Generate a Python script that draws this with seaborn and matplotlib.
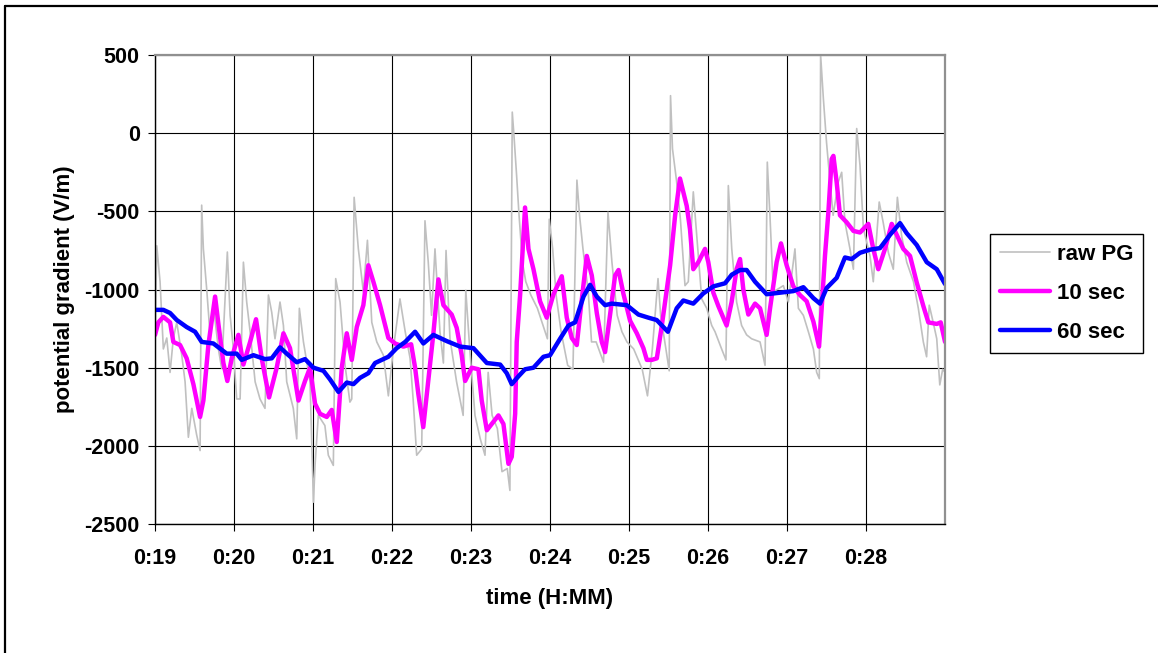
import pandas as pd
import matplotlib.pyplot as plt
import seaborn as sns
from matplotlib.lines import Line2D

# seconds after 0:19:00 and potential gradient (V/m)
raw_t = [0, 1.3, 3.8, 6.3, 8.9, 11.4, 13.9, 16.5, 20.3, 22.8, 25.3, 27.9, 31.6, 34.2,
         35.4, 36.7, 39.2, 41.8, 44.3, 48.1, 50.6, 54.9, 57, 59.5, 62, 64.6, 67.1,
         69.6, 72.2, 76, 79.7, 83.5, 86.1, 88.6, 91.1, 94.9, 97.5, 100, 105, 107.6,
         109.6, 112.7, 117.7, 120.3, 121.5, 124, 129, 131.6, 135.4, 137.2, 140.5,
         144.3, 148, 149.4, 151.2, 154.4, 158.2, 161.3, 164.6, 168.4, 173.4, 177.2,
         181, 186, 190, 193.7, 196, 198.7, 202.5, 205, 207.5, 210, 212.6, 216.4, 219,
         221, 224, 229, 234, 236, 239, 243, 247, 250.6, 253, 256, 260, 263.5, 267.5,
         269.5, 271.3, 272.6, 274.6, 276.3, 279, 281.6, 285.4, 290.4, 295.5, 298,
         299.4, 302, 304.6, 308.4, 313.4, 317.4, 320.4, 322.4, 325, 329, 331.5, 335,
         340.6, 344, 347, 351, 354.6, 358.4, 363.5, 370, 374, 377.7, 382, 384, 388,
         390.5, 391.5, 393, 396, 399, 402.5, 405, 408.8, 411.4, 415.2, 419, 422.8,
         425.3, 430.3, 433.6, 435.4, 438, 441.7, 445.5, 449.3, 453.1, 459.5, 463.3,
         465, 467, 469.6, 473.4, 477.2, 481, 486, 488.6, 492.4, 496.2, 500, 502.5,
         504.5, 505.5, 507.6, 510, 512.6, 515, 519, 521.5, 524, 527.8, 530.4, 532.9,
         535.4, 538, 543, 545.5, 550, 553, 557, 560.7, 563.8, 567, 570.9, 576, 579.7,
         583.5, 586, 588, 591, 593.7, 596, 598.2, 600]
raw_pg = [-1350, -720, -950, -1380, -1310, -1530, -1310, -1210, -1420, -1590, -1945,
          -1760, -1930, -2030, -460, -740, -995, -1290, -1100, -1380, -1505, -760,
          -1165, -1380, -1700, -1700, -825, -1080, -1270, -1590, -1700, -1760, -1035,
          -1145, -1315, -1080, -1230, -1590, -1760, -1955, -1120, -1335, -1590, -2360,
          -2125, -1805, -1870, -2060, -2125, -930, -1080, -1485, -1720, -1700, -410,
          -740, -1015, -685, -1210, -1335, -1420, -1680, -1380, -1060, -1270, -1440,
          -1700, -2060, -2020, -560, -825, -1165, -740, -1270, -1470, -750, -1315,
          -1590, -1805, -1005, -1380, -1805, -1955, -2060, -1530, -1805, -1890, -2165,
          -2145, -2285, 135, -15, -270, -505, -825, -950, -1035, -1120, -1250, -1315,
          -550, -740, -1035, -1270, -1485, -1510, -300, -525, -740, -1015, -1335,
          -1335, -1465, -505, -825, -1165, -1270, -1335, -1380, -1510, -1680, -1380,
          -930, -1165, -1380, -1520, 240, -100, -300, -550, -975, -950, -375, -655,
          -1060, -1120, -1230, -1270, -1380, -1450, -335, -740, -1080, -1230, -1290,
          -1315, -1335, -1485, -185, -525, -1015, -995, -975, -1080, -740, -1120,
          -1165, -1270, -1380, -1530, -1570, 500, 220, -60, -310, -525, -310, -250,
          -570, -740, -870, 30, -205, -610, -785, -950, -440, -570, -765, -870, -410,
          -655, -825, -950, -1120, -1335, -1430, -1100, -1210, -1315, -1610, -1510,
          -1530]

avg10_t = [0, 2.5, 6.3, 11.4, 13.9, 19, 24, 29.1, 34.2, 36.7, 40.5, 45.6, 48.1, 51.9,
           54.9, 58.2, 63.3, 67.1, 72.2, 76.7, 81, 86.6, 92.4, 97.5, 102.5, 108.9,
           113.9, 117.7, 121.5, 125.3, 130.4, 134.2, 138, 141.8, 145.6, 149.4, 153.2,
           158.2, 162, 165.8, 170.9, 177.2, 182.3, 188.6, 194.5, 197.5, 200, 203.7,
           207.5, 211.4, 215.2, 219, 225.3, 229.1, 232.9, 235.5, 240.5, 245.6, 248.1,
           252, 255.7, 260.8, 264.6, 268.4, 270.9, 273.5, 274.7, 277.3, 281, 283.6,
           287.4, 292.4, 297.5, 302.6, 308.9, 312.7, 316.5, 320.3, 322.8, 327.9, 331.7,
           335.5, 339.3, 341.8, 345.6, 349.4, 352, 355.8, 360.8, 365.9, 370.9, 373.5,
           377.3, 381.1, 384.9, 391.2, 395, 398.7, 403.8, 406.3, 408.8, 412.6, 417.7,
           420.2, 424, 427.8, 434.1, 437.9, 441.7, 444.3, 446.8, 450.6, 455.7, 459.5,
           464.5, 467.1, 472.1, 475.4, 479.7, 484.8, 489.8, 494.9, 500, 504.3, 506.3,
           508.8, 511.4, 513.9, 515.2, 517.7, 520.2, 525.3, 530.4, 535.4, 541.7, 545.5,
           549.3, 554.4, 559.5, 563.3, 568.3, 573.4, 578.5, 583.5, 587.3, 593.7, 596.7,
           600]
avg10_pg = [-1290, -1210, -1175, -1210, -1335, -1355, -1440, -1605, -1815, -1710,
            -1355, -1045, -1220, -1470, -1585, -1440, -1290, -1480, -1335, -1190, -1440,
            -1690, -1500, -1280, -1375, -1710, -1585, -1500, -1730, -1795, -1815, -1770,
            -1975, -1500, -1280, -1450, -1240, -1100, -845, -950, -1100, -1310, -1345,
            -1365, -1350, -1500, -1670, -1880, -1585, -1280, -935, -1100, -1160, -1245,
            -1420, -1585, -1500, -1510, -1710, -1900, -1860, -1805, -1860, -2115, -2070,
            -1795, -1335, -1030, -475, -740, -870, -1075, -1180, -1030, -915, -1180,
            -1310, -1355, -1160, -785, -910, -1150, -1335, -1400, -1160, -910, -875,
            -1030, -1200, -1280, -1375, -1450, -1450, -1440, -1230, -845, -525, -290,
            -465, -615, -870, -825, -740, -825, -1020, -1105, -1230, -1080, -870, -805,
            -1000, -1160, -1090, -1120, -1290, -1120, -825, -705, -845, -980, -1035,
            -1075, -1205, -1365, -1120, -785, -505, -165, -145, -315, -525, -570, -625,
            -635, -580, -740, -870, -740, -580, -650, -740, -785, -955, -1105, -1210,
            -1220, -1210, -1335]

avg60_t = [0, 6.3, 11.4, 16.5, 24, 30.4, 35.4, 44.3, 54.4, 62, 65.8, 74.7, 83.5, 88.6,
           94.9, 100, 107.6, 113.9, 120.3, 127.9, 132.9, 139.3, 145.6, 150.7, 155.7,
           162, 167.1, 177.2, 183.5, 190, 197.5, 203.8, 211.4, 221.6, 231.7, 241.8,
           252, 262.1, 267.1, 270.9, 276, 281, 287.4, 295, 300, 307.6, 314, 319, 325.4,
           330.4, 335.5, 341.8, 346.9, 358.3, 367.1, 374.7, 381, 389.5, 396.2, 401.2,
           408.8, 416.4, 424, 432.9, 438, 444.3, 449.3, 455.7, 464.5, 474.7, 484.8,
           492.4, 500, 505, 510.1, 517.7, 524, 529.1, 535.4, 543, 550.6, 558.2, 565.8,
           570.9, 578.5, 586.1, 593.7, 600]
avg60_pg = [-1130, -1130, -1150, -1195, -1240, -1270, -1335, -1345, -1410, -1410, -1450,
            -1420, -1445, -1440, -1370, -1410, -1465, -1445, -1500, -1520, -1575, -1655,
            -1595, -1605, -1565, -1535, -1470, -1430, -1375, -1335, -1270, -1345, -1290,
            -1330, -1365, -1375, -1470, -1480, -1535, -1605, -1555, -1510, -1500, -1430,
            -1420, -1315, -1230, -1210, -1045, -970, -1045, -1100, -1090, -1100, -1160,
            -1180, -1195, -1270, -1120, -1070, -1090, -1025, -980, -960, -905, -875,
            -875, -950, -1030, -1020, -1010, -985, -1055, -1090, -990, -925, -795, -805,
            -765, -745, -735, -650, -575, -640, -715, -825, -870, -965]

minute_ticks = [19, 20, 21, 22, 23, 24, 25, 26, 27, 28]
minute_labels = ['0:19', '0:20', '0:21', '0:22', '0:23', '0:24', '0:25', '0:26', '0:27', '0:28']
y_ticks = [-2500, -2000, -1500, -1000, -500, 0, 500]

sns.set_theme(style='white')
plt.rcParams['font.family'] = ['Liberation Sans', 'DejaVu Sans']
plt.rcParams['font.weight'] = 'bold'
plt.rcParams['axes.unicode_minus'] = False
plt.rcParams['text.color'] = 'black'
plt.rcParams['axes.labelcolor'] = 'black'
plt.rcParams['xtick.color'] = 'black'
plt.rcParams['ytick.color'] = 'black'

df_raw = pd.DataFrame({'minute': [19 + t / 60 for t in raw_t], 'pg': raw_pg})
df_10 = pd.DataFrame({'minute': [19 + t / 60 for t in avg10_t], 'pg': avg10_pg})
df_60 = pd.DataFrame({'minute': [19 + t / 60 for t in avg60_t], 'pg': avg60_pg})

fig = plt.figure(figsize=(11.58, 6.53), dpi=100)
ax = fig.add_axes([0.1339, 0.1975, 0.6822, 0.7182])

sns.lineplot(data=df_raw, x='minute', y='pg', ax=ax, color='#C0C0C0', linewidth=1.2,
             estimator=None, sort=False, label='raw PG')
sns.lineplot(data=df_10, x='minute', y='pg', ax=ax, color='#FF00FF', linewidth=3.2,
             estimator=None, sort=False, label='10 sec')
sns.lineplot(data=df_60, x='minute', y='pg', ax=ax, color='#0000FF', linewidth=3.2,
             estimator=None, sort=False, label='60 sec')

ax.set_xlim(19, 29)
ax.set_ylim(-2500, 500)
ax.set_xticks(minute_ticks)
ax.set_xticklabels(minute_labels)
ax.set_yticks(y_ticks)
ax.grid(True, color='black', linewidth=0.8)
ax.set_axisbelow(True)
ax.tick_params(axis='both', direction='out', length=5, width=0.8, color='black',
               labelsize=15.5, labelcolor='black', bottom=True, left=True)
ax.tick_params(axis='x', pad=12)
ax.tick_params(axis='y', pad=6)
for lab in ax.get_xticklabels() + ax.get_yticklabels():
    lab.set_fontweight('bold')
for side in ['left', 'bottom']:
    ax.spines[side].set_color('black')
    ax.spines[side].set_linewidth(1.0)
for side in ['top', 'right']:
    ax.spines[side].set_color('#909090')
    ax.spines[side].set_linewidth(1.6)

ax.set_xlabel('time (H:MM)', fontsize=16, fontweight='bold', labelpad=14)
ax.set_ylabel('potential gradient (V/m)', fontsize=16, fontweight='bold', labelpad=7)

leg = ax.legend(loc='upper left', bbox_to_anchor=(1.057, 0.618), borderaxespad=0,
                fontsize=16, frameon=True, fancybox=False, edgecolor='black',
                framealpha=1, handlelength=2.25, labelspacing=0.8, borderpad=0.45,
                handletextpad=0.3)
leg.get_frame().set_linewidth(1.0)
for txt in leg.get_texts():
    txt.set_fontweight('bold')
    txt.set_color('black')

# outer chart frame (only top and left edges show)
fig.add_artist(Line2D([0.0045, 0.0045], [0, 0.991], transform=fig.transFigure,
                      color='black', linewidth=1.6))
fig.add_artist(Line2D([0.0045, 1], [0.991, 0.991], transform=fig.transFigure,
                      color='black', linewidth=1.6))

fig.savefig('out.png', dpi=100)
